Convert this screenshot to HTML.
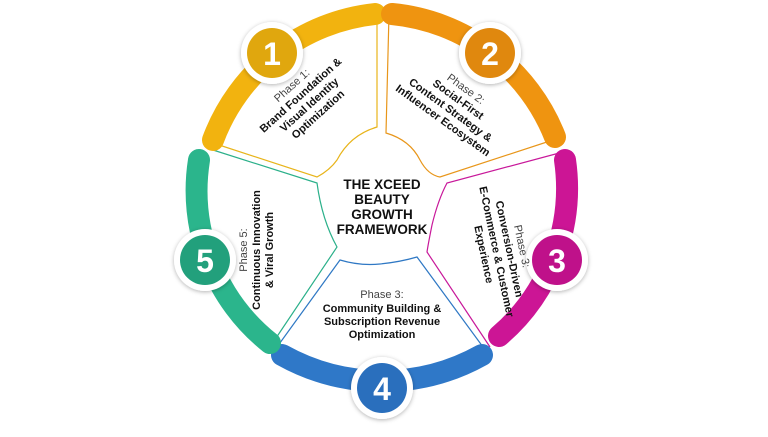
<!DOCTYPE html>
<html><head><meta charset="utf-8"><style>
html,body{margin:0;padding:0;background:#fff;}
svg text{font-family:"Liberation Sans",sans-serif;}
</style></head><body>
<svg width="768" height="432" viewBox="0 0 768 432" xmlns="http://www.w3.org/2000/svg">
<defs>
<filter id="sh" x="-30%" y="-30%" width="160%" height="160%"><feDropShadow dx="0" dy="1" stdDeviation="2" flood-color="#000" flood-opacity="0.3"/></filter>
</defs>
<g fill="none" stroke-width="1.2">
<path d="M213,143 L317,177 Q330,170 337,160 Q350,135 377,127 L377,14" stroke="#e8b41a"/>
<path d="M389,14 L386,133 Q410,140 420,160 Q428,175 440,177 L553,140" stroke="#e8961a"/>
<path d="M563,152 L447,183 Q438,200 432,225 Q428,245 427,252 L490,347" stroke="#c8189a"/>
<path d="M277,347 L340,260 Q360,266 380,264 Q400,262 417,257 L483,347" stroke="#2f78c4"/>
<path d="M213,150 L317,183 Q322,220 337,247 L270,347" stroke="#2bb08a"/>
</g>
<g fill="none" stroke-width="22" stroke-linecap="round">
<path d="M213,140 A195,195 0 0 1 375,14" stroke="#f2b30f"/>
<path d="M392,14 A195,195 0 0 1 555,137" stroke="#ef9410"/>
<path d="M565,160 A195,195 0 0 1 499,336" stroke="#cc1595"/>
<path d="M282,355 A205,205 0 0 0 482,355" stroke="#2f78c8"/>
<path d="M270,343 A195,195 0 0 1 199,160" stroke="#2bb58c"/>
</g>
<g filter="url(#sh)">
<circle cx="272" cy="53" r="31" fill="#fff"/>
<circle cx="490" cy="53" r="31" fill="#fff"/>
<circle cx="557" cy="260" r="31" fill="#fff"/>
<circle cx="382" cy="388" r="31" fill="#fff"/>
<circle cx="205" cy="260" r="31" fill="#fff"/>
</g>
<circle cx="272" cy="53" r="25" fill="#e0a70e"/>
<circle cx="490" cy="53" r="25" fill="#e0880e"/>
<circle cx="557" cy="260" r="25" fill="#bf118a"/>
<circle cx="382" cy="388" r="25" fill="#2a6fbd"/>
<circle cx="205" cy="260" r="25" fill="#22a07c"/>
<g fill="#fff" font-size="32" font-weight="bold" text-anchor="middle" style="font-family:'Liberation Sans Narrow','Liberation Sans',sans-serif">
<text x="272" y="65">1</text><text x="490" y="65">2</text><text x="557" y="272">3</text><text x="382" y="400">4</text><text x="205" y="272">5</text>
</g>
<g font-size="13.5" font-weight="bold" text-anchor="middle" fill="#111">
<text x="382" y="189">THE XCEED</text><text x="382" y="204">BEAUTY</text><text x="382" y="219">GROWTH</text><text x="382" y="234">FRAMEWORK</text>
</g>
<g font-size="11" text-anchor="middle" fill="#111">
<g transform="translate(305,100) rotate(-42)">
<text y="-16" fill="#444">Phase 1:</text>
<text y="-3" font-weight="bold">Brand Foundation &amp;</text>
<text y="10" font-weight="bold">Visual Identity</text>
<text y="23" font-weight="bold">Optimization</text></g>
<g transform="translate(452,108) rotate(36)">
<text y="-20" fill="#444">Phase 2:</text>
<text y="-7" font-weight="bold">Social-First</text>
<text y="6" font-weight="bold">Content Strategy &amp;</text>
<text y="19" font-weight="bold">Influencer Ecosystem</text></g>
<g transform="translate(495,252) rotate(78)">
<text y="-24" fill="#444">Phase 3:</text>
<text y="-11" font-weight="bold">Conversion-Driven</text>
<text y="2" font-weight="bold">E-Commerce &amp; Customer</text>
<text y="15" font-weight="bold">Experience</text></g>
<g transform="translate(260,250) rotate(-90)">
<text y="-13" fill="#444">Phase 5:</text>
<text y="0" font-weight="bold">Continuous Innovation</text>
<text y="13" font-weight="bold">&amp; Viral Growth</text></g>
<g transform="translate(382,305)">
<text y="-7" fill="#444">Phase 3:</text>
<text y="7" font-weight="bold">Community Building &amp;</text>
<text y="20" font-weight="bold">Subscription Revenue</text>
<text y="33" font-weight="bold">Optimization</text></g>
</g>
</svg>
</body></html>
